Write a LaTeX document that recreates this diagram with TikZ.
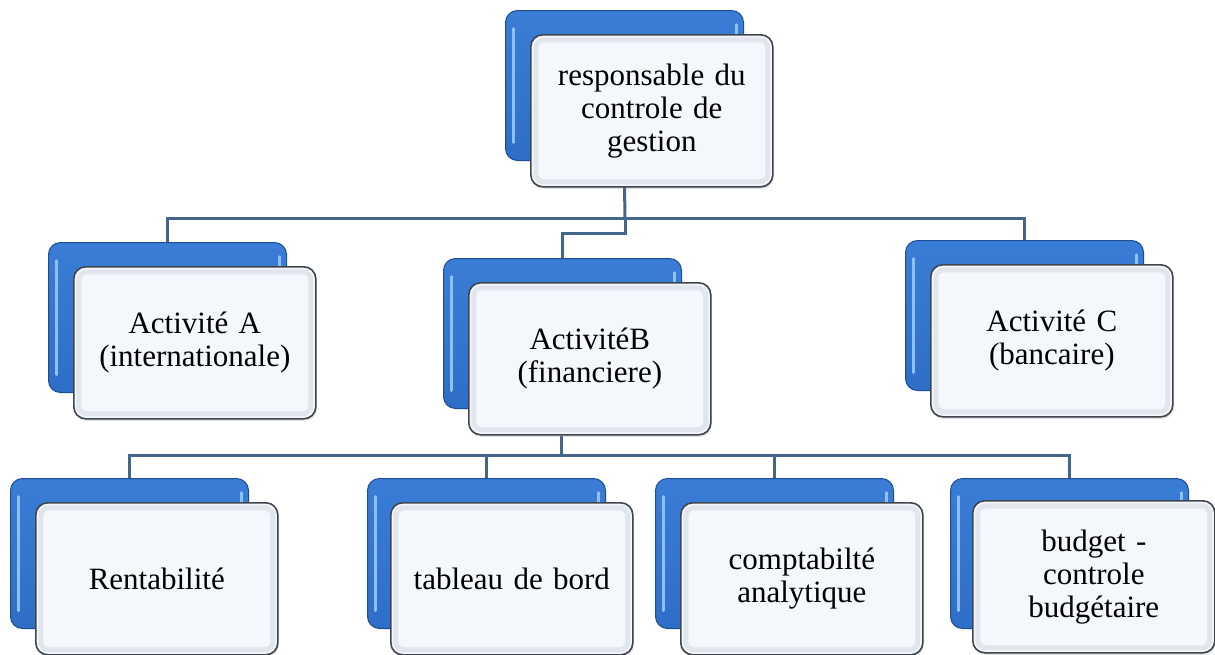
\documentclass[tikz,border=0pt]{standalone}
\usepackage{fontspec}
\setmainfont{Liberation Serif}
\usetikzlibrary{shadows}
\definecolor{bluefill}{HTML}{2F6EC6}
\definecolor{bluetop}{HTML}{3A7DD6}
\definecolor{blueedge}{HTML}{1D4D93}
\definecolor{bluehi}{HTML}{8DC1F5}
\definecolor{cardfill}{HTML}{F4F7FB}
\definecolor{cardbevel}{HTML}{E1E6ED}
\definecolor{cardedge}{HTML}{3F454D}
\definecolor{linecol}{HTML}{44658C}
\begin{document}
\begin{tikzpicture}[x=1pt,y=-1pt,
  backbox/.style={anchor=north west,inner sep=0pt,
    minimum width=238pt,minimum height=150pt,
    rounded corners=12pt,draw=blueedge,line width=1pt,
    top color=bluetop,bottom color=bluefill,
    path picture={
      \draw[bluehi,line width=3pt,line cap=round]
        ([xshift=8pt,yshift=-18pt]path picture bounding box.north west) --
        ([xshift=8pt,yshift=18pt]path picture bounding box.south west);
      \draw[bluehi,line width=2.5pt,line cap=round]
        ([xshift=-7pt,yshift=-14pt]path picture bounding box.north east) --
        ([xshift=-7pt,yshift=-40pt]path picture bounding box.north east);
    }},
  card/.style={anchor=north west,inner sep=0pt,
    minimum width=242pt,minimum height=152pt,
    text width=226pt,align=center,
    font=\fontsize{31}{33}\selectfont,
    rounded corners=12pt,draw=cardedge,line width=1.6pt,fill=cardfill,
    drop shadow={opacity=0.25,shadow xshift=1pt,shadow yshift=-2pt},
    path picture={
      \draw[cardbevel,line width=5pt,rounded corners=8pt]
        ([xshift=5pt,yshift=-5pt]path picture bounding box.north west)
        rectangle
        ([xshift=-5pt,yshift=5pt]path picture bounding box.south east);
    }},
  conn/.style={draw=linecol,line width=3pt}]

\useasboundingbox (0,0) rectangle (1215,654);
\fill[white] (0,0) rectangle (1215,654);

% bus points of the two branch levels
\coordinate (bus1) at (625,218);
\coordinate (bus2) at (561,455);

% blue back plates
\node[backbox] (topb)  at (505,10)  {};
\node[backbox] (actAb) at (48,242)  {};
\node[backbox] (actBb) at (443,258) {};
\node[backbox] (actCb) at (905,240) {};
\node[backbox] (rentb) at (10,478)  {};
\node[backbox] (tabb)  at (367,478) {};
\node[backbox] (compb) at (655,478) {};
\node[backbox] (budgb) at (950,478) {};

% connectors
\coordinate (topfoot) at (630,186);
\draw[conn] (topb.north |- topfoot) -- (bus1);
\draw[conn] (actAb.north) |- (bus1) -| (actCb.north);
\draw[conn] (bus1) -- ++(0,15) -| (actBb.north);
\coordinate (bfoot) at (561,436);
\draw[conn] (bfoot) -- (bus2);
\draw[conn] (rentb.north) |- (bus2) -| (budgb.north);
\draw[conn] (tabb.north) -- (tabb.north |- bus2);
\draw[conn] (compb.north) -- (compb.north |- bus2);

% front cards with the labels
\node[card] (top)  at (530,34)  {responsable du\\controle de\\gestion};
\node[card] (actA) at (73,266)  {Activité A\\(internationale)};
\node[card] (actB) at (468,282) {ActivitéB\\(financiere)};
\node[card] (actC) at (930,264) {Activité C\\(bancaire)};
\node[card] (rent) at (35,502)  {Rentabilité};
\node[card] (tab)  at (390,502) {tableau de bord};
\node[card] (comp) at (680,502) {comptabilté\\analytique};
\node[card] (budg) at (972,500) {budget -\\controle\\budgétaire};
\end{tikzpicture}
\end{document}
